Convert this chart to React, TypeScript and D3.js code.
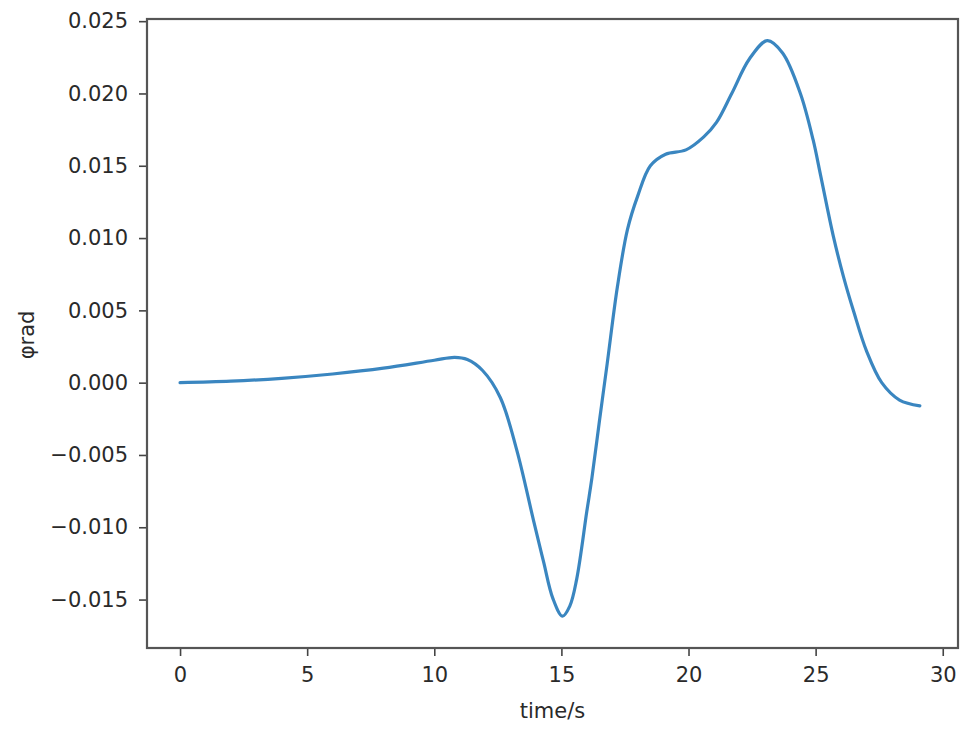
import React, { useEffect, useRef } from 'react'
import * as d3 from 'd3'

// time (s) and roll angle phi (rad)
const times = [0, 2, 4, 6, 8, 10, 10.8, 11.3, 11.9, 12.6, 13.25, 13.9, 14.3, 14.66, 15.04, 15.33, 15.6, 16.0, 16.2, 16.5, 16.8, 17.2, 17.6, 18.0, 18.5, 19.1, 19.9, 20.6, 21.1, 21.7, 22.4, 23.1, 23.7, 24.4, 24.9, 25.2, 25.7, 26.1, 26.5, 27.0, 27.6, 28.3, 29.1]
const phi = [0, 0.0001, 0.0003, 0.0006, 0.001, 0.00155, 0.00175, 0.0016, 0.00084, -0.00104, -0.0047, -0.0095, -0.0124, -0.0149, -0.01615, -0.01545, -0.0136, -0.0089, -0.0066, -0.0026, 0.0013, 0.0066, 0.0106, 0.0129, 0.015, 0.0158, 0.0161, 0.017, 0.018, 0.02, 0.0224, 0.02365, 0.0228, 0.02, 0.0168, 0.0143, 0.0101, 0.0073, 0.0049, 0.0022, 0.0, -0.0012, -0.0016]

const xTicks = [0, 5, 10, 15, 20, 25, 30]
const yTicks = [-0.015, -0.01, -0.005, 0, 0.005, 0.01, 0.015, 0.02, 0.025]

export default function App() {
  const ref = useRef<SVGSVGElement>(null)

  useEffect(() => {
    document.body.style.margin = '0'
    const svg = d3.select(ref.current)
    svg.selectAll('*').remove()

    const width = 977
    const height = 738
    const m = { left: 147, right: 958, top: 19, bottom: 648 }
    const font = 'DejaVu Sans, sans-serif'

    const x = d3.scaleLinear().domain([-1.3, 30.6]).range([m.left, m.right])
    const y = d3.scaleLinear().domain([-0.01835, 0.02515]).range([m.bottom, m.top])

    svg.attr('width', width).attr('height', height)
    svg.append('rect').attr('width', width).attr('height', height).attr('fill', '#fff')

    // curve
    const data = times.map((t, i) => [t, phi[i]] as [number, number])
    const line = d3.line<[number, number]>()
      .x(d => x(d[0]))
      .y(d => y(d[1]))
      .curve(d3.curveCatmullRom.alpha(0.5))
    svg.append('path')
      .datum(data)
      .attr('d', line)
      .attr('fill', 'none')
      .attr('stroke', '#3a86c0')
      .attr('stroke-width', 3.2)
      .attr('stroke-linejoin', 'round')
      .attr('stroke-linecap', 'round')

    // axes
    const xAxis = svg.append('g')
      .attr('transform', `translate(0,${m.bottom})`)
      .call(d3.axisBottom(x).tickValues(xTicks).tickSize(8).tickPadding(11).tickFormat(d3.format('d')))
    const yAxis = svg.append('g')
      .attr('transform', `translate(${m.left},0)`)
      .call(d3.axisLeft(y).tickValues(yTicks).tickSize(8).tickPadding(11).tickFormat(d3.format('.3f')))

    ;[xAxis, yAxis].forEach(g => {
      g.select('.domain').remove()
      g.selectAll('line').attr('stroke', '#444').attr('stroke-width', 1.6)
      g.selectAll('text').attr('fill', '#2a2a2a').style('font-family', font).style('font-size', '21px')
    })

    // spines
    svg.append('rect')
      .attr('x', m.left)
      .attr('y', m.top)
      .attr('width', m.right - m.left)
      .attr('height', m.bottom - m.top)
      .attr('fill', 'none')
      .attr('stroke', '#555')
      .attr('stroke-width', 2.2)

    svg.append('text')
      .attr('x', (m.left + m.right) / 2)
      .attr('y', 718)
      .attr('text-anchor', 'middle')
      .attr('fill', '#2a2a2a')
      .style('font-family', font)
      .style('font-size', '21px')
      .text('time/s')

    svg.append('text')
      .attr('transform', `translate(34,335) rotate(-90)`)
      .attr('text-anchor', 'middle')
      .attr('fill', '#2a2a2a')
      .style('font-family', font)
      .style('font-size', '21px')
      .text('φrad')
  }, [])

  return <svg ref={ref} style={{ display: 'block' }}></svg>
}
